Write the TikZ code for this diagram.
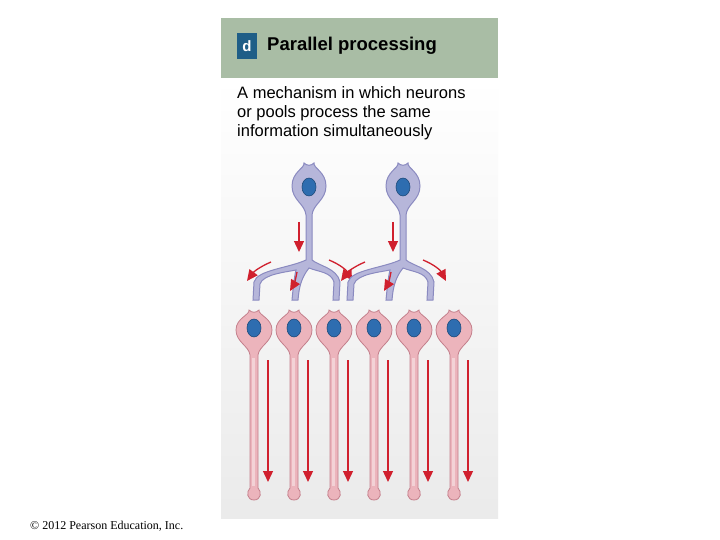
\documentclass[tikz,border=0pt]{standalone}
\usepackage{fontspec}
\setmainfont{Liberation Sans}
\usetikzlibrary{arrows.meta}
\definecolor{hdr}{HTML}{A9BDA5}
\definecolor{dbox}{HTML}{1F5E87}
\definecolor{bluef}{HTML}{B6B6DA}
\definecolor{bluel}{HTML}{8A8AC0}
\definecolor{pinkf}{HTML}{ECB4BC}
\definecolor{pinkl}{HTML}{C4808C}
\definecolor{nuc}{HTML}{2E6DB0}
\definecolor{arr}{HTML}{D0202E}
\tikzset{
  sig/.style={draw=arr,line width=1.3pt,-{Triangle[length=11pt,width=10pt]}},
  txt/.style={font=\fontsize{16.5}{19}\selectfont,align=left,anchor=north west,inner sep=0pt},
  nucl/.style={fill=nuc,draw=nuc!70!black,line width=0.6pt}
}
\begin{document}
\begin{tikzpicture}[x=1pt,y=-1pt]
\useasboundingbox (0,0) rectangle (720,540);
\fill[white] (0,0) rectangle (720,540);
\shade[top color=white,bottom color=black!8] (221,78) rectangle (498,518);
\fill[hdr] (221,18) rectangle (498,78);
\node[fill=dbox,text=white,minimum width=20pt,minimum height=26pt,inner sep=0pt,font=\bfseries\fontsize{15}{15}\selectfont] (d) at (247,46) {d};
\node[anchor=west,font=\bfseries\fontsize{18.5}{18.5}\selectfont,inner sep=0pt] (title) at (267,46) {Parallel processing};
\node[txt] (desc) at (237,86) {A mechanism in which neurons\\or pools process the same\\information simultaneously};
\node[anchor=south west,inner sep=0pt,font=\fontsize{12}{12}\selectfont\fontspec{Liberation Serif}] (copy) at (30,532) {\textcopyright{} 2012 Pearson Education, Inc.};
% lower neurons
\foreach \x/\n in {254/a,294/b,334/c,374/e,414/f,454/g}{
  \draw[pinkl,line width=0.8pt,fill=pinkf]
    (\x-5,310) .. controls (\x-4,315) and (\x-18,318) .. (\x-18,330)
    .. controls (\x-18,342) and (\x-5,346) .. (\x-4,355)
    -- (\x-4,488) .. controls (\x-8,492) and (\x-7,500) .. (\x,500)
    .. controls (\x+7,500) and (\x+8,492) .. (\x+4,488)
    -- (\x+4,355) .. controls (\x+5,346) and (\x+18,342) .. (\x+18,330)
    .. controls (\x+18,318) and (\x+4,315) .. (\x+5,310)
    .. controls (\x+2,313) and (\x-2,313) .. cycle;
  \fill[white,opacity=0.4] (\x-2,358) rectangle (\x+1,486);
  \draw[nucl] (\x,328) ellipse (7 and 9);
  \coordinate (ax\n) at (\x+14,360);
  \coordinate (ay\n) at (\x+14,482);
  \draw[sig] (ax\n) -- (ay\n);
}
% upper neurons
\foreach \x/\n in {309/p,403/q}{
  \draw[bluel,line width=1pt,fill=bluef]
    (\x-5,163) .. controls (\x-4,168) and (\x-17,172) .. (\x-17,186)
    .. controls (\x-17,200) and (\x-4,204) .. (\x-3,215)
    -- (\x-3,260)
    .. controls (\x-20,268) and (\x-52,270) .. (\x-55,282) -- (\x-56,300)
    -- (\x-50,300) -- (\x-49,284) .. controls (\x-46,274) and (\x-22,272) .. (\x-13,270)
    .. controls (\x-15,278) and (\x-16,290) .. (\x-17,300)
    -- (\x-11,300) .. controls (\x-10,288) and (\x-8,278) .. (\x,268)
    .. controls (\x+10,272) and (\x+22,272) .. (\x+25,282) -- (\x+24,300)
    -- (\x+30,300) -- (\x+31,282) .. controls (\x+28,268) and (\x+10,266) .. (\x+3,260)
    -- (\x+3,215) .. controls (\x+4,204) and (\x+17,200) .. (\x+17,186)
    .. controls (\x+17,172) and (\x+4,168) .. (\x+5,163)
    .. controls (\x+2,166) and (\x-2,166) .. cycle;
  \draw[nucl] (\x,187) ellipse (7 and 9);
  \coordinate (v1\n) at (\x-10,222);
  \coordinate (v2\n) at (\x-10,252);
  \draw[sig] (v1\n) -- (v2\n);
  \coordinate (l1\n) at (\x-38,262);
  \coordinate (l2\n) at (\x-62,281);
  \draw[sig] (l1\n) to[bend right=15] (l2\n);
  \coordinate (m1\n) at (\x-12,272);
  \coordinate (m2\n) at (\x-19,291);
  \draw[sig] (m1\n) to[bend left=10] (m2\n);
  \coordinate (r1\n) at (\x+20,260);
  \coordinate (r2\n) at (\x+43,281);
  \draw[sig] (r1\n) to[bend left=20] (r2\n);
}
\end{tikzpicture}
\end{document}
